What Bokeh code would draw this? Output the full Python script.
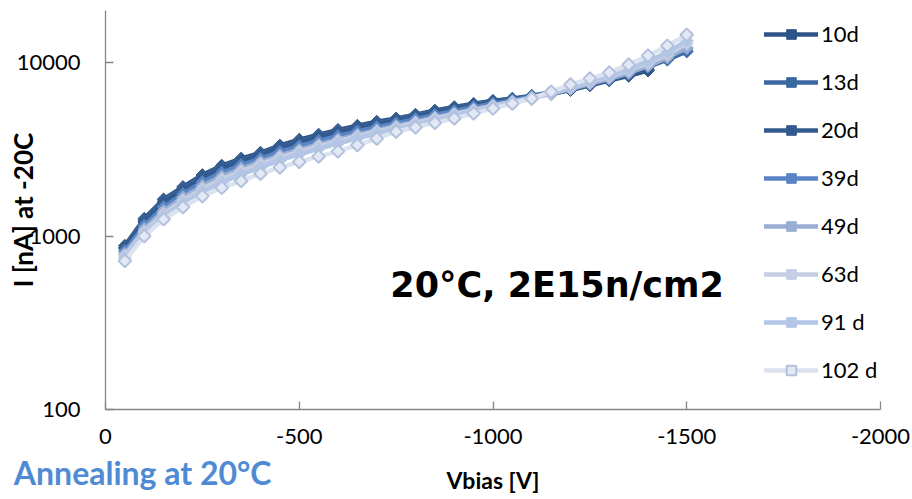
import math
from bokeh.plotting import figure
from bokeh.models import (Legend, LegendItem, FixedTicker, Label, ColumnDataSource,
                          LinearAxis, Range1d)
from bokeh.embed import file_html
from bokeh.resources import INLINE

# ---- data ----
vbias = [-50, -100, -150, -200, -250, -300, -350, -400, -450, -500,
         -550, -600, -650, -700, -750, -800, -850, -900, -950, -1000,
         -1050, -1100, -1150, -1200, -1250, -1300, -1350, -1400, -1450, -1500]

i_10d = [880, 1260, 1630, 1920, 2250, 2550, 2800, 3030, 3330, 3600,
         3850, 4100, 4330, 4570, 4770, 5020, 5300, 5550, 5800, 6030,
         6200, 6400, 6600, 6950, 7400, 7900, 8400, 9000]
i_13d = [860, 1230, 1590, 1880, 2200, 2490, 2740, 2980, 3260, 3520,
         3770, 4010, 4250, 4480, 4700, 4950, 5230, 5480, 5740, 5990,
         6200, 6450, 6750, 7150, 7600, 8150, 8750, 9450, 10400, 11600]
i_20d = [850, 1210, 1560, 1850, 2170, 2460, 2710, 2950, 3220, 3480,
         3720, 3960, 4200, 4430, 4650, 4900, 5180, 5430, 5690, 5940,
         6150, 6380, 6650, 7000, 7450, 7950, 8500, 9150]
i_39d = [820, 1150, 1470, 1750, 2050, 2320, 2570, 2800, 3060, 3300,
         3540, 3780, 4020, 4250, 4480, 4730, 5000, 5260, 5530, 5800,
         6070, 6360, 6700, 7100, 7550, 8050, 8650, 9700, 10800, 12000]
i_49d = [790, 1100, 1400, 1670, 1950, 2210, 2450, 2680, 2920, 3150,
         3380, 3610, 3850, 4080, 4320, 4570, 4840, 5100, 5380, 5660,
         5950, 6260, 6620, 7050, 7550, 8100, 8750, 9550, 10700, 12200]
i_63d = [770, 1060, 1350, 1610, 1880, 2130, 2370, 2600, 2840, 3070,
         3300, 3530, 3770, 4010, 4250, 4500, 4770, 5040, 5330, 5630,
         5940, 6280, 6680, 7150, 7700, 8300, 9000, 9900, 11100, 12900]
i_91d = [750, 1030, 1300, 1550, 1800, 2040, 2270, 2490, 2730, 2960,
         3190, 3420, 3660, 3900, 4140, 4390, 4660, 4940, 5230, 5540,
         5870, 6230, 6650, 7150, 7750, 8400, 9200, 10200, 11500, 13400]
i_102d = [720, 1000, 1250, 1470, 1700, 1900, 2080, 2290, 2490, 2680,
          2880, 3080, 3350, 3650, 4000, 4240, 4500, 4770, 5100, 5440,
          5810, 6210, 6800, 7480, 8090, 8770, 9740, 10980, 12530, 14490]

series_names = ["10d", "13d", "20d", "39d", "49d", "63d", "91 d", "102 d"]
series_values = [i_10d, i_13d, i_20d, i_39d, i_49d, i_63d, i_91d, i_102d]
line_colors = ["#2E5487", "#3A68A0", "#335A8E", "#5985C4", "#9AADD3", "#C6CEE3", "#B3C6E5", "#DCE3F0"]
marker_fill = ["#2E5487", "#3A68A0", "#335A8E", "#5985C4", "#9AADD3", "#C6CEE3", "#B3C6E5", "#E3E9F4"]
marker_line = ["#2E5487", "#3A68A0", "#335A8E", "#5985C4", "#9AADD3", "#C6CEE3", "#B3C6E5", "#B4C1DD"]

x_ticks = [0, -500, -1000, -1500, -2000]
y_ticks = [100, 1000, 10000]

FONT = "Lato"

p = figure(width=912, height=499, y_axis_type="log",
           x_range=(0, -2000), y_range=(100, 20000),
           output_backend="svg", toolbar_location=None,
           min_border_left=105, min_border_right=32,
           min_border_top=10, min_border_bottom=90)
p.grid.visible = False
p.outline_line_color = None
p.background_fill_color = "white"
p.border_fill_color = "white"

items = []
for name, vals, lc, mf, ml in zip(series_names, series_values, line_colors, marker_fill, marker_line):
    src = ColumnDataSource(dict(x=vbias[:len(vals)], y=vals))
    r1 = p.line("x", "y", source=src, line_color=lc, line_width=4.5,
                line_join="round", line_cap="round")
    hollow = name == "102 d"
    r2 = p.scatter("x", "y", source=src, marker="square", size=9, angle=math.pi / 4,
                   fill_color=mf, line_color=ml, line_width=2 if hollow else 1)
    items.append(LegendItem(label=name, renderers=[r1, r2]))

legend = Legend(items=items, location=(659, 26), padding=0, margin=0,
                border_line_alpha=0, background_fill_alpha=0,
                glyph_width=54, glyph_height=24, label_height=24, spacing=21,
                label_standoff=3, label_text_font=FONT, label_text_font_size="22px",
                label_text_color="black")
p.add_layout(legend)

for ax in (p.xaxis[0], p.yaxis[0]):
    ax.axis_line_color = "#868686"
    ax.axis_line_width = 1.3
    ax.major_tick_line_color = "#868686"
    ax.major_tick_line_width = 1.3
    ax.major_tick_in = 8
    ax.major_tick_out = 0
    ax.minor_tick_line_color = None
    ax.major_label_text_font = FONT
    ax.major_label_text_font_size = "22px"
    ax.major_label_text_color = "black"
    ax.axis_label_text_font = FONT
    ax.axis_label_text_font_style = "bold"
    ax.axis_label_text_color = "black"

p.xaxis.ticker = FixedTicker(ticks=x_ticks)
p.xaxis.major_label_overrides = {t: str(t) for t in x_ticks}
p.xaxis.major_label_standoff = 19

p.yaxis.ticker = FixedTicker(ticks=y_ticks)
p.yaxis.major_label_overrides = {t: str(t) for t in y_ticks}
p.yaxis.major_label_standoff = 25
p.yaxis.axis_label = "I [nA] at -20C"
p.yaxis.axis_label_text_font_size = "26px"
p.yaxis.axis_label_standoff = -25

# second, invisible bottom axis carrying the caption (as a tick label) and the
# x-axis title "Vbias [V]" in the same band below the tick labels
p.extra_x_ranges = {"cap": Range1d(0, 1)}
cap_pos = 0.048
cap_axis = LinearAxis(x_range_name="cap", ticker=FixedTicker(ticks=[cap_pos]),
                      major_label_overrides={cap_pos: "Annealing at 20°C"})
cap_axis.axis_line_color = None
cap_axis.major_tick_line_color = None
cap_axis.minor_tick_line_color = None
cap_axis.major_tick_in = 0
cap_axis.major_tick_out = 0
cap_axis.major_label_standoff = 6
cap_axis.major_label_text_font = FONT
cap_axis.major_label_text_font_style = "bold"
cap_axis.major_label_text_font_size = "32px"
cap_axis.major_label_text_color = "#4F8AD4"
cap_axis.axis_label = "Vbias [V]"
cap_axis.axis_label_text_font = FONT
cap_axis.axis_label_text_font_style = "bold"
cap_axis.axis_label_text_font_size = "23px"
cap_axis.axis_label_text_color = "black"
cap_axis.axis_label_standoff = -29
p.add_layout(cap_axis, "below")

p.add_layout(Label(x=-735, y=523, text="20°C, 2E15n/cm2", text_font="DejaVu Sans",
                   text_font_style="bold", text_font_size="35px", text_color="black",
                   text_align="left", text_baseline="alphabetic"))

open("out.html", "w").write(file_html(p, INLINE))
